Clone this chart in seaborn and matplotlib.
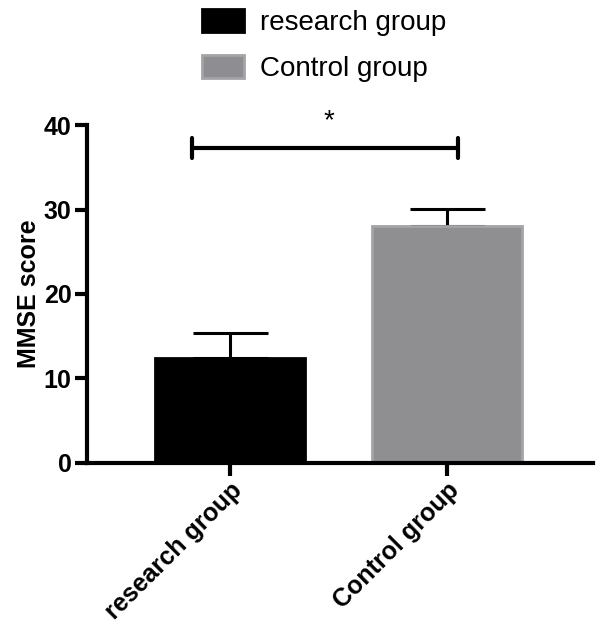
import matplotlib
matplotlib.use('Agg')
import matplotlib.pyplot as plt
import seaborn as sns
import pandas as pd
from matplotlib.patches import Patch

# values
groups = ['research group', 'Control group']
means = [12.4, 28.0]
sds = [3.0, 2.1]
colors = ['#000000', '#8e8e92']
edges = ['#000000', '#a4a4a6']
sig_y = 37.3

sns.set_style('ticks', {'axes.edgecolor': 'black', 'xtick.color': 'black',
                        'ytick.color': 'black', 'text.color': 'black',
                        'axes.labelcolor': 'black'})
plt.rcParams['font.family'] = ['Liberation Sans', 'DejaVu Sans']

df = pd.DataFrame({'group': groups, 'mean': means, 'sd': sds})

fig = plt.figure(figsize=(6, 6.33), dpi=100)
ax = fig.add_axes([0.145, 0.2686, 0.843, 0.5339])

sns.barplot(data=df, x='group', y='mean', hue='group', palette=colors,
            width=0.69, legend=False, ax=ax, zorder=2)
for bar, ec in zip(ax.patches, edges):
    bar.set_edgecolor(ec)
    bar.set_linewidth(2)

# upper SD only
ax.errorbar(range(len(groups)), df['mean'], yerr=[[0] * len(sds), df['sd']],
            fmt='none', ecolor='black', elinewidth=2.2, capsize=27, capthick=2.2,
            zorder=1)

# significance bracket
ax.plot([-0.175, 1.05], [sig_y, sig_y], color='black', lw=3, clip_on=False)
for xe in [-0.175, 1.05]:
    ax.plot([xe, xe], [sig_y - 1.2, sig_y + 1.2], color='black', lw=3,
            solid_capstyle='round', clip_on=False)
ax.text(0.456, 40.4, '*', ha='center', va='center', fontsize=20, clip_on=False)

ax.set_ylim(0, 40)
ax.set_yticks([0, 10, 20, 30, 40])
ax.set_xlim(-0.66, 1.67)
ax.set_xlabel('')
ax.set_ylabel('MMSE score', fontsize=18, fontweight='bold', labelpad=2)
sns.despine(ax=ax)
for s in ['left', 'bottom']:
    ax.spines[s].set_linewidth(3)
ax.tick_params(width=3, length=9, labelsize=18, pad=2)
for lab in ax.get_yticklabels():
    lab.set_fontweight('bold')
ax.set_xticks(range(len(groups)))
ax.set_xticklabels(groups, rotation=45, ha='right', rotation_mode='anchor',
                   fontweight='bold', fontsize=18)

handles = [Patch(facecolor=c, edgecolor=e, linewidth=2) for c, e in zip(colors, edges)]
fig.legend(handles, groups, loc='upper left', bbox_to_anchor=(0.295, 1.025),
           frameon=False, fontsize=20, handlelength=1.5, handleheight=0.9,
           labelspacing=0.68, handletextpad=0.6)

fig.savefig('out.png', dpi=100)
